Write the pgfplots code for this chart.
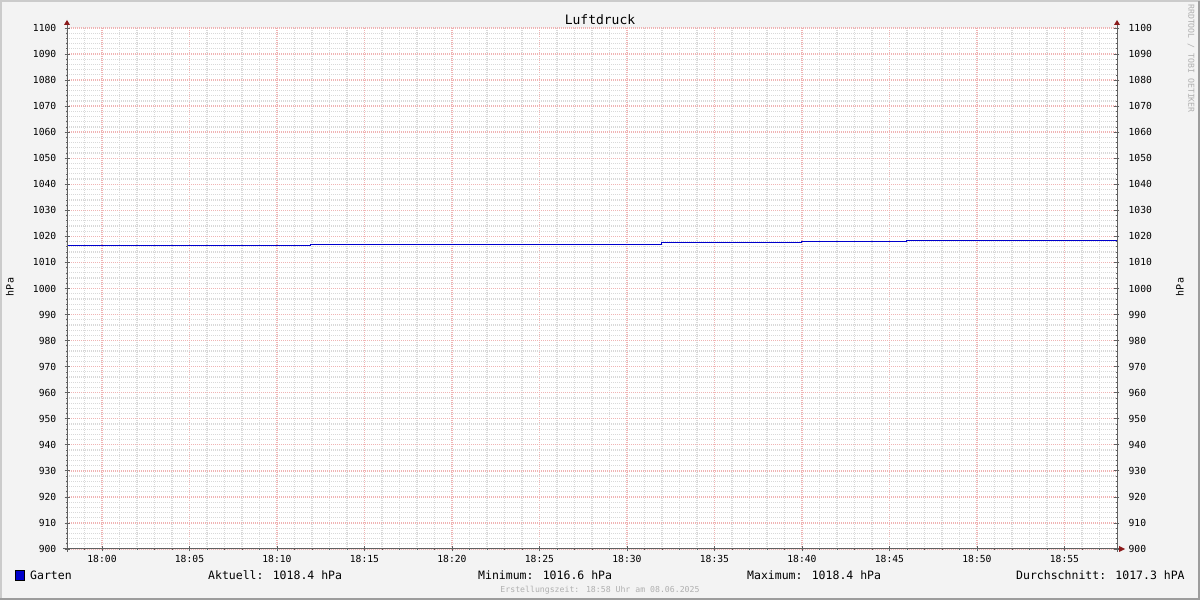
\documentclass[border=0pt]{standalone}
\usepackage{pgfplots}
\pgfplotsset{compat=1.18}
\usepackage{fontspec}
\setmainfont{DejaVu Sans Mono}
\setmonofont{DejaVu Sans Mono}
\definecolor{bgc}{HTML}{F3F3F3}
\definecolor{linec}{HTML}{0000CC}
\definecolor{mgrid}{HTML}{F0B4B4}
\definecolor{ngrid}{HTML}{D9D9D9}
\definecolor{axc}{HTML}{606060}
\definecolor{arrc}{HTML}{8B1A1A}
\definecolor{brlight}{HTML}{CBCBCB}
\definecolor{brdark}{HTML}{9C9C9C}
\definecolor{foot}{HTML}{B0B0B0}
\begin{document}
\begin{tikzpicture}[x=1pt,y=1pt]
\fill[bgc] (0,0) rectangle (1200,600);
\draw[brlight, line width=2pt] (1,0) -- (1,599) -- (1200,599);
\draw[brdark, line width=2pt] (0,1) -- (1199,1) -- (1199,599);
\begin{axis}[
  at={(67pt,51pt)}, anchor=south west,
  width=1050pt, height=521pt, scale only axis,
  xmin=-2, xmax=58, ymin=900, ymax=1100,
  axis background/.style={fill=white},
  axis line style={draw=none},
  xtick={0,5,...,55},
  xticklabels={18:00,18:05,18:10,18:15,18:20,18:25,18:30,18:35,18:40,18:45,18:50,18:55},
  minor xtick={-2,-1,1,2,3,4,6,7,8,9,11,12,13,14,16,17,18,19,21,22,23,24,26,27,28,29,31,32,33,34,36,37,38,39,41,42,43,44,46,47,48,49,51,52,53,54,56,57},
  ytick={900,910,...,1100},
  minor ytick={902,904,906,908,912,914,916,918,922,924,926,928,932,934,936,938,942,944,946,948,952,954,956,958,962,964,966,968,972,974,976,978,982,984,986,988,992,994,996,998,1002,1004,1006,1008,1012,1014,1016,1018,1022,1024,1026,1028,1032,1034,1036,1038,1042,1044,1046,1048,1052,1054,1056,1058,1062,1064,1066,1068,1072,1074,1076,1078,1082,1084,1086,1088,1092,1094,1096,1098},
  grid=both,
  major grid style={mgrid, dash pattern=on 1pt off 1pt, line width=1.4pt},
  minor grid style={ngrid, dash pattern=on 1pt off 1pt, line width=1.2pt},
  xtick pos=left, ytick pos=left,
  tick align=center,
  major tick length=5pt, minor tick length=2pt,
  tick style={axc, solid, line width=0.7pt},
  ticklabel style={font=\fontsize{9.7}{11}\selectfont},
  /pgf/number format/assume math mode=true,
  /pgf/number format/1000 sep={},
  yticklabel style={anchor=east, inner sep=0pt, xshift=-8pt},
  xticklabel style={anchor=base, inner sep=0pt, yshift=-11pt},
]
\addplot[const plot, linec, line width=1pt] coordinates {
  (-2,1016.6) (11.9,1017.0) (32,1017.5) (40,1017.9) (46,1018.4) (58,1018.4)};
\end{axis}
\begin{axis}[
  at={(67pt,51pt)}, anchor=south west,
  width=1050pt, height=521pt, scale only axis,
  xmin=-2, xmax=58, ymin=900, ymax=1100,
  hide x axis,
  axis line style={draw=none},
  ytick={900,910,...,1100},
  minor ytick={900,902,...,1100},
  ytick pos=right, yticklabel pos=right,
  tick align=center,
  major tick length=5pt, minor tick length=2pt,
  tick style={axc, solid, line width=0.7pt},
  ticklabel style={font=\fontsize{9.7}{11}\selectfont},
  /pgf/number format/assume math mode=true,
  /pgf/number format/1000 sep={},
  yticklabel style={anchor=west, inner sep=0pt, xshift=9pt},
]
\end{axis}
% axis lines and arrows
\draw[axc, line width=1pt] (67,48) -- (67,576);
\draw[axc, line width=1pt] (1117,48) -- (1117,576);
\draw[axc, line width=1pt] (63,51) -- (1120,51);
\fill[arrc] (64,575) -- (67,580) -- (70,575) -- cycle;
\fill[arrc] (1114,575) -- (1117,580) -- (1120,575) -- cycle;
\fill[arrc] (1119,48) -- (1125,51) -- (1119,54) -- cycle;
% title and axis labels
\node[anchor=base, inner sep=0pt, font=\fontsize{13}{15}\selectfont] at (600,575) {Luftdruck};
\node[rotate=90, inner sep=0pt, font=\fontsize{10}{12}\selectfont] at (10,313) {hPa};
\node[rotate=90, inner sep=0pt, font=\fontsize{10}{12}\selectfont] at (1180,313) {hPa};
\node[rotate=-90, anchor=west, inner sep=0pt, text=foot, font=\fontsize{8.2}{10}\selectfont] at (1191,596) {RRDTOOL / TOBI OETIKER};
% legend
\fill[linec, draw=black, line width=0.6pt] (15,20) rectangle (24,30);
\begin{scope}[every node/.style={anchor=base west, inner sep=0pt, font=\fontsize{11.5}{13}\selectfont}]
\node at (30,20) {Garten};
\node at (208,20) {Aktuell: 1018.4 hPa};
\node at (478,20) {Minimum: 1016.6 hPa};
\node at (747,20) {Maximum: 1018.4 hPa};
\node at (1016,20) {Durchschnitt: 1017.3 hPA};
\end{scope}
\node[anchor=base, inner sep=0pt, text=foot, font=\fontsize{8.2}{10}\selectfont] at (600,8) {Erstellungszeit: 18:58 Uhr am 08.06.2025};
\pgfresetboundingbox
\path[use as bounding box] (0,0) rectangle (1200,600);
\end{tikzpicture}
\end{document}
